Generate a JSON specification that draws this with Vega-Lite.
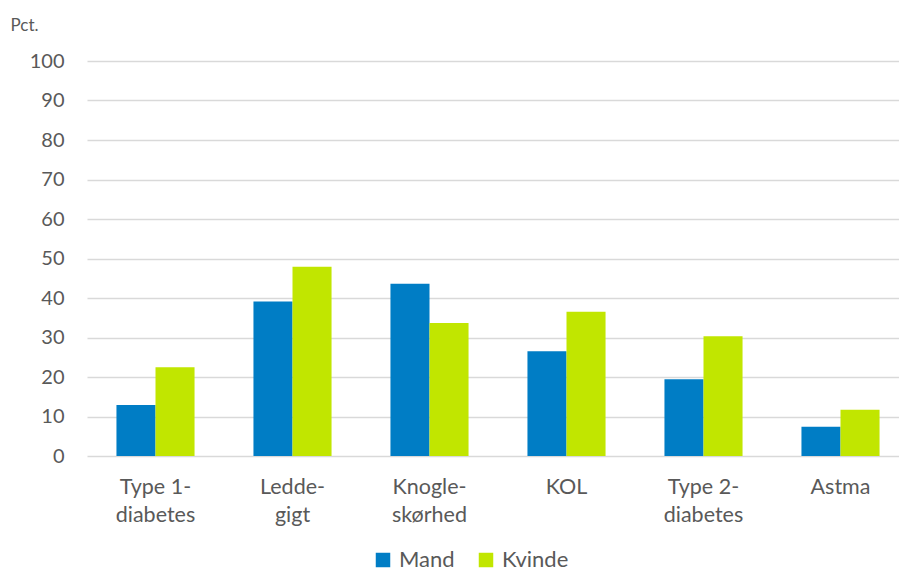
{
  "$schema": "https://vega.github.io/schema/vega-lite/v6.json",
  "width": 822,
  "height": 395,
  "autosize": {"type": "none"},
  "padding": {"left": 87, "top": 61, "right": 0, "bottom": 115},
  "background": "white",
  "data": {
    "values": [
      {"sygdom": "Type 1-|diabetes", "koen": "Mand", "pct": 12.9},
      {"sygdom": "Type 1-|diabetes", "koen": "Kvinde", "pct": 22.5},
      {"sygdom": "Ledde-|gigt", "koen": "Mand", "pct": 39.1},
      {"sygdom": "Ledde-|gigt", "koen": "Kvinde", "pct": 47.9},
      {"sygdom": "Knogle-|skørhed", "koen": "Mand", "pct": 43.6},
      {"sygdom": "Knogle-|skørhed", "koen": "Kvinde", "pct": 33.7},
      {"sygdom": "KOL", "koen": "Mand", "pct": 26.5},
      {"sygdom": "KOL", "koen": "Kvinde", "pct": 36.5},
      {"sygdom": "Type 2-|diabetes", "koen": "Mand", "pct": 19.4},
      {"sygdom": "Type 2-|diabetes", "koen": "Kvinde", "pct": 30.3},
      {"sygdom": "Astma", "koen": "Mand", "pct": 7.4},
      {"sygdom": "Astma", "koen": "Kvinde", "pct": 11.7}
    ]
  },
  "mark": {"type": "bar"},
  "encoding": {
    "x": {
      "field": "sygdom",
      "type": "nominal",
      "sort": null,
      "scale": {"paddingInner": 0.43, "paddingOuter": 0.215},
      "axis": {
        "title": null,
        "labelAngle": 0,
        "labelExpr": "split(datum.label, '|')",
        "labelFont": "Lato",
        "labelFontSize": 21.5,
        "labelColor": "#595959",
        "labelPadding": 20,
        "labelLineHeight": 28,
        "labelBaseline": "top",
        "ticks": false,
        "domain": false,
        "grid": false
      }
    },
    "xOffset": {
      "field": "koen",
      "type": "nominal",
      "sort": ["Mand", "Kvinde"],
      "scale": {"paddingInner": 0, "paddingOuter": 0}
    },
    "y": {
      "field": "pct",
      "type": "quantitative",
      "scale": {"domain": [0, 100], "nice": false},
      "axis": {
        "values": [0, 10, 20, 30, 40, 50, 60, 70, 80, 90, 100],
        "title": "Pct.",
        "titleAngle": 0,
        "titleAlign": "left",
        "titleBaseline": "alphabetic",
        "titleX": -77,
        "titleY": -31,
        "titleFont": "Lato",
        "titleFontSize": 17,
        "titleFontWeight": "normal",
        "titleColor": "#595959",
        "labelFont": "Lato",
        "labelFontSize": 20,
        "labelColor": "#595959",
        "labelPadding": 23,
        "ticks": false,
        "domain": false,
        "grid": true,
        "gridColor": "#d9d9d9",
        "gridWidth": 1.5
      }
    },
    "color": {
      "field": "koen",
      "type": "nominal",
      "sort": ["Mand", "Kvinde"],
      "scale": {"domain": ["Mand", "Kvinde"], "range": ["#007DC5", "#C1E600"]},
      "legend": {
        "title": null,
        "orient": "none",
        "direction": "horizontal",
        "legendX": 285,
        "legendY": 488,
        "symbolType": "square",
        "symbolSize": 210,
        "symbolStrokeWidth": 0,
        "symbolOpacity": 1,
        "labelFont": "Lato",
        "labelFontSize": 22,
        "labelColor": "#595959",
        "labelOffset": 5,
        "columnPadding": 20
      }
    }
  },
  "config": {
    "view": {"stroke": null}
  }
}
